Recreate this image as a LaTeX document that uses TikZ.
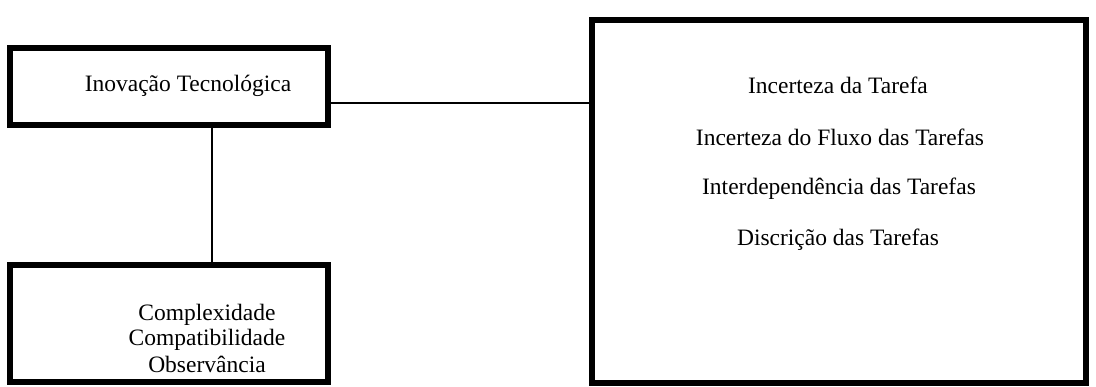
\documentclass[tikz,border=0pt]{standalone}
\usepackage{fontspec}
\setmainfont{Liberation Serif}
\begin{document}
\begin{tikzpicture}[x=1pt,y=-1pt,
  thickbox/.style={draw=black, line width=5.5pt, fill=none, inner sep=0pt},
  lbl/.style={inner sep=0pt, font=\fontsize{23.5}{28}\selectfont, anchor=center},
  conn/.style={draw=black, line width=1.6pt}]
\useasboundingbox (0,0) rectangle (1096,387);
\node[thickbox, minimum width=318pt, minimum height=77pt] (top) at (169,86.5) {};
\node[thickbox, minimum width=318pt, minimum height=117pt] (bot) at (169,323.5) {};
\node[thickbox, minimum width=494pt, minimum height=363pt] (right) at (839,201.5) {};
\node[lbl] (t1) at (188,86) {Inovação Tecnológica};
\node[lbl] (b1) at (207,315) {Complexidade};
\node[lbl] (b2) at (207,340) {Compatibilidade};
\node[lbl] (b3) at (207,364) {Observância};
\node[lbl] (r1) at (838,85) {Incerteza da Tarefa};
\node[lbl] (r2) at (840,137) {Incerteza do Fluxo das Tarefas};
\node[lbl] (r3) at (839,189) {Interdependência das Tarefas};
\node[lbl] (r4) at (838,240) {Discrição das Tarefas};
\coordinate (hy) at (0,103);
\coordinate (vx) at (212,0);
\draw[conn] (top.east |- hy) -- (right.west |- hy);
\draw[conn] (top.south -| vx) -- (bot.north -| vx);
\end{tikzpicture}
\end{document}
